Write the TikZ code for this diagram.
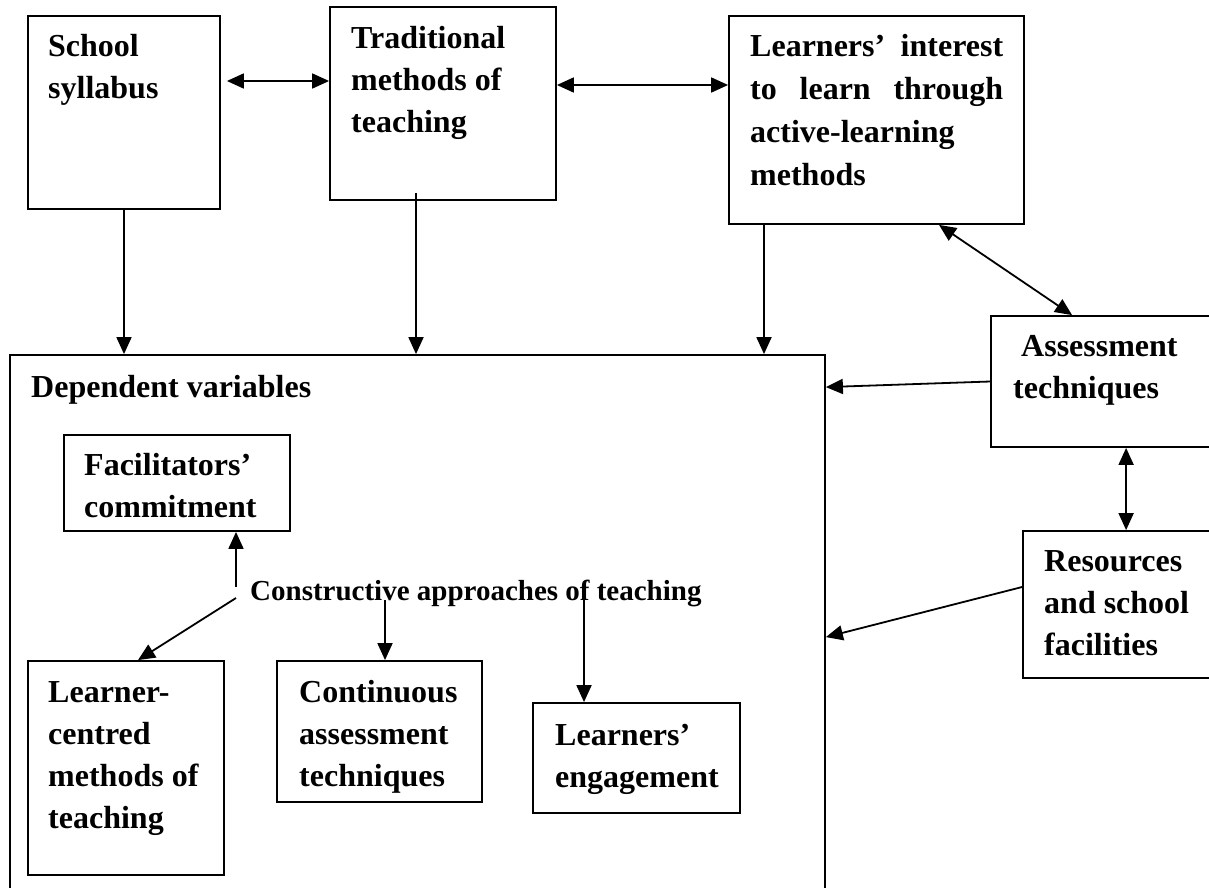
\documentclass[tikz,border=0pt]{standalone}
\usepackage{fontspec}
\setmainfont{Liberation Serif}
\usetikzlibrary{arrows.meta}

\begin{document}
\begin{tikzpicture}[x=1pt, y=-1pt,
    box/.style={draw, line width=1.8pt, inner sep=0pt},
    txt/.style={anchor=base west, inner sep=0pt, align=left,
        font=\fontsize{32}{42}\selectfont\bfseries},
    arr/.style={-{Triangle[length=17pt,width=15pt]}, line width=1.8pt},
    biarr/.style={{Triangle[length=17pt,width=15pt]}-{Triangle[length=17pt,width=15pt]}, line width=1.8pt}]
    \useasboundingbox (0,0) rectangle (1209,888);

    % Top row (text nodes sit on the baseline of their last line)
    \node [box, minimum width=192, minimum height=193] (syl) at (124,112.5) {};
    \node [txt] (syltxt) at (48,99) {School\\syllabus};
    \node [box, minimum width=226, minimum height=193] (trad) at (443,103.5) {};
    \node [txt] (tradtxt) at (351,132) {Traditional\\methods of\\teaching};
    \node [box, minimum width=295, minimum height=208] (intr) at (876.5,120) {};
    % justified box: baseline of its first line
    \node [txt, text width=253,
        font=\fontsize{32}{43}\selectfont\bfseries] (intrtxt) at (750,57)
        {Learners’\hfill interest\\to\hfill learn\hfill through\\active-learning\\methods};

    % Right column
    \node [box, minimum width=249, minimum height=131] (assess) at (1115.5,381.5) {};
    \node [txt] (assesstxt) at (1013,398) {\hspace*{8pt}Assessment\\techniques};
    \node [box, minimum width=217, minimum height=147] (res) at (1131.5,604.5) {};
    \node [txt] (restxt) at (1044,655) {Resources\\and school\\facilities};

    % Dependent variables
    \node [box, minimum width=815, minimum height=545] (dep) at (417.5,627.5) {};
    \node [txt] (deptxt) at (31,397) {Dependent variables};
    \node [box, minimum width=226, minimum height=96] (fac) at (177,483) {};
    \node [txt] (factxt) at (84,517) {Facilitators’\\commitment};
    \node [txt, font=\fontsize{29}{36}\selectfont\bfseries] (cap) at (250,600)
        {Constructive approaches of teaching};
    \node [box, minimum width=196, minimum height=214] (lcm) at (126,768) {};
    \node [txt] (lcmtxt) at (48,828) {Learner-\\centred\\methods of\\teaching};
    \node [box, minimum width=205, minimum height=141] (cont) at (379.5,731.5) {};
    \node [txt] (conttxt) at (299,786) {Continuous\\assessment\\techniques};
    \node [box, minimum width=207, minimum height=110] (eng) at (636.5,758) {};
    \node [txt] (engtxt) at (555,787) {Learners’\\engagement};

    % Links between the top boxes
    \draw [biarr, shorten <=6pt] ([yshift=31.5]syl.east) -- ([yshift=22.5]trad.west);
    \draw [biarr] ([yshift=18.5]trad.east) -- ([yshift=35]intr.west);
    \draw [biarr] ([xshift=62.5]intr.south) -- ([xshift=82]assess.north west);
    \draw [biarr] ([xshift=136]assess.south west) -- ([xshift=104]res.north west);

    % Into the dependent variables
    \draw [arr] (syl.south) -- (syl.south |- dep.north);
    \coordinate (t1) at ([xshift=-27,yshift=8]trad.south);
    \draw [arr] (t1) -- (t1 |- dep.north);
    \coordinate (i1) at ([xshift=-112.5]intr.south);
    \draw [arr] (i1) -- (i1 |- dep.north);
    \draw [arr] (assess.west) -- ([yshift=-33]dep.north east);
    \draw [arr] ([yshift=17.5]res.west) -- ([yshift=-283]dep.north east);

    % Constructive approaches
    \coordinate (hub) at ([xshift=-14]cap.base west);
    \draw [arr] ([yshift=13]hub) -- (hub |- fac.south);
    \draw [arr] ([yshift=2]hub) -- ([xshift=12]lcm.north);
    \coordinate (c1) at ([xshift=5.5]cont.north);
    \draw [arr] (c1 |- cap.base) -- (c1);
    \coordinate (e1) at ([xshift=-52.5]eng.north);
    \draw [arr] (e1 |- cap.base) -- (e1);
\end{tikzpicture}
\end{document}
